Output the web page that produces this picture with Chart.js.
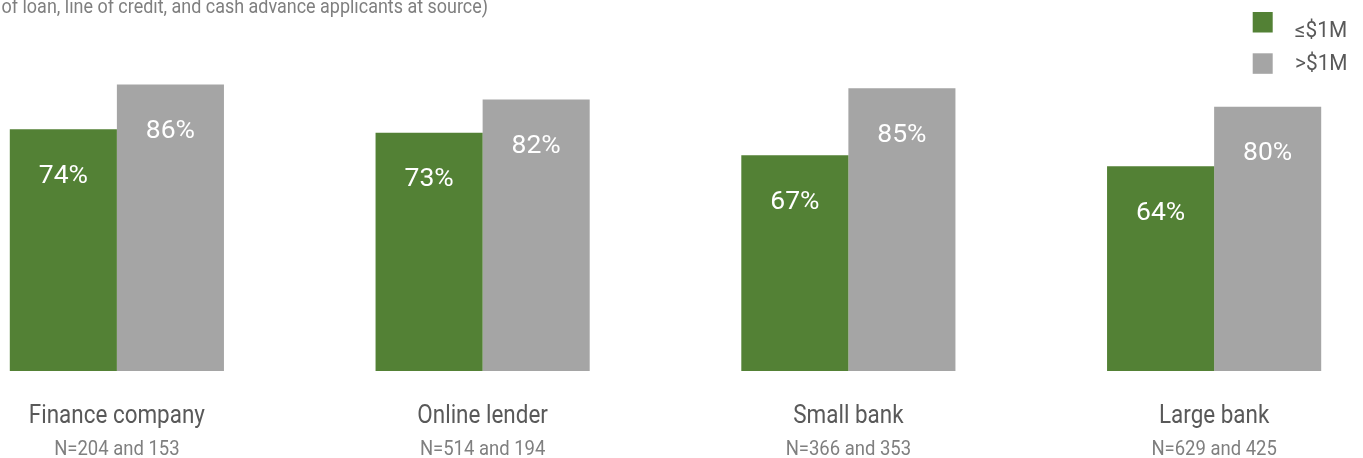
<!DOCTYPE html>
<html><head><meta charset="utf-8">
<script src="https://cdn.jsdelivr.net/npm/chart.js@4"></script>
<style>
html,body{margin:0;padding:0;background:#fff;overflow:hidden;width:1363px;height:458px}
#wrap{position:absolute;left:-66px;top:0;width:1463px;height:458px}
</style></head>
<body><div id="wrap"><canvas id="c" width="1463" height="458"></canvas></div>
<script>
const categories = ['Finance company', 'Online lender', 'Small bank', 'Large bank'];
const sampleSizes = ['N=204 and 153', 'N=514 and 194', 'N=366 and 353', 'N=629 and 425'];
const smallFirms = [74, 73, 67, 64];
const largeFirms = [86, 82, 85, 80];
const seriesNames = ['≤$1M', '>$1M'];
const seriesColors = ['#538135', '#A5A5A5'];
const subtitle = 'of loan, line of credit, and cash advance applicants at source)';

const OFFX = 66; // canvas is shifted left by this amount
function condText(ctx, text, x, y, size, color, align, sx) {
  ctx.save();
  ctx.font = size + 'px Roboto';
  ctx.fillStyle = color;
  ctx.textAlign = align;
  ctx.textBaseline = 'alphabetic';
  ctx.translate(x, y);
  ctx.scale(sx, 1);
  ctx.fillText(text, 0, 0);
  ctx.restore();
}

const decor = {
  id: 'decor',
  afterDatasetsDraw(chart) {
    const ctx = chart.ctx;
    const xs = chart.scales.x;
    // value labels inside bars
    chart.data.datasets.forEach((ds, di) => {
      chart.getDatasetMeta(di).data.forEach((bar, i) => {
        ctx.save();
        ctx.font = '26.5px Roboto';
        ctx.fillStyle = '#ffffff';
        ctx.textAlign = 'center';
        ctx.textBaseline = 'alphabetic';
        ctx.fillText(ds.data[i] + '%', bar.x, bar.y + 53.5);
        ctx.restore();
      });
    });
    // category labels
    categories.forEach((c, i) => {
      const x = xs.getPixelForValue(i);
      condText(ctx, c, x, 422.5, 25.5, '#595959', 'center', 0.88);
      condText(ctx, sampleSizes[i], x, 455, 21, '#7f7f7f', 'center', 0.88);
    });
    // legend
    seriesNames.forEach((n, i) => {
      const top = i === 0 ? 12 : 53.3;
      ctx.fillStyle = seriesColors[i];
      ctx.fillRect(1252.7 + OFFX, top, 20, 20.5);
      condText(ctx, n, 1295 + OFFX, i === 0 ? 36.7 : 70, 21.5, '#595959', 'left', 0.97);
    });
    // subtitle (cropped)
    condText(ctx, subtitle, 488 + OFFX, 12.5, 21, '#7f7f7f', 'right', 0.855);
  }
};

new Chart(document.getElementById('c'), {
  type: 'bar',
  data: {
    labels: categories,
    datasets: [
      { label: seriesNames[0], data: smallFirms, backgroundColor: seriesColors[0], borderWidth: 0, categoryPercentage: 0.5855, barPercentage: 1.0 },
      { label: seriesNames[1], data: largeFirms, backgroundColor: seriesColors[1], borderWidth: 0, categoryPercentage: 0.5855, barPercentage: 1.0 }
    ]
  },
  options: {
    responsive: false,
    animation: false,
    layout: { padding: { top: 32.4, bottom: 87, left: 0, right: 0 } },
    plugins: { legend: { display: false }, tooltip: { enabled: false } },
    scales: {
      x: { display: false, offset: true, grid: { display: false } },
      y: { display: false, min: 9, max: 100 }
    }
  },
  plugins: [decor]
});
</script>
</body></html>
